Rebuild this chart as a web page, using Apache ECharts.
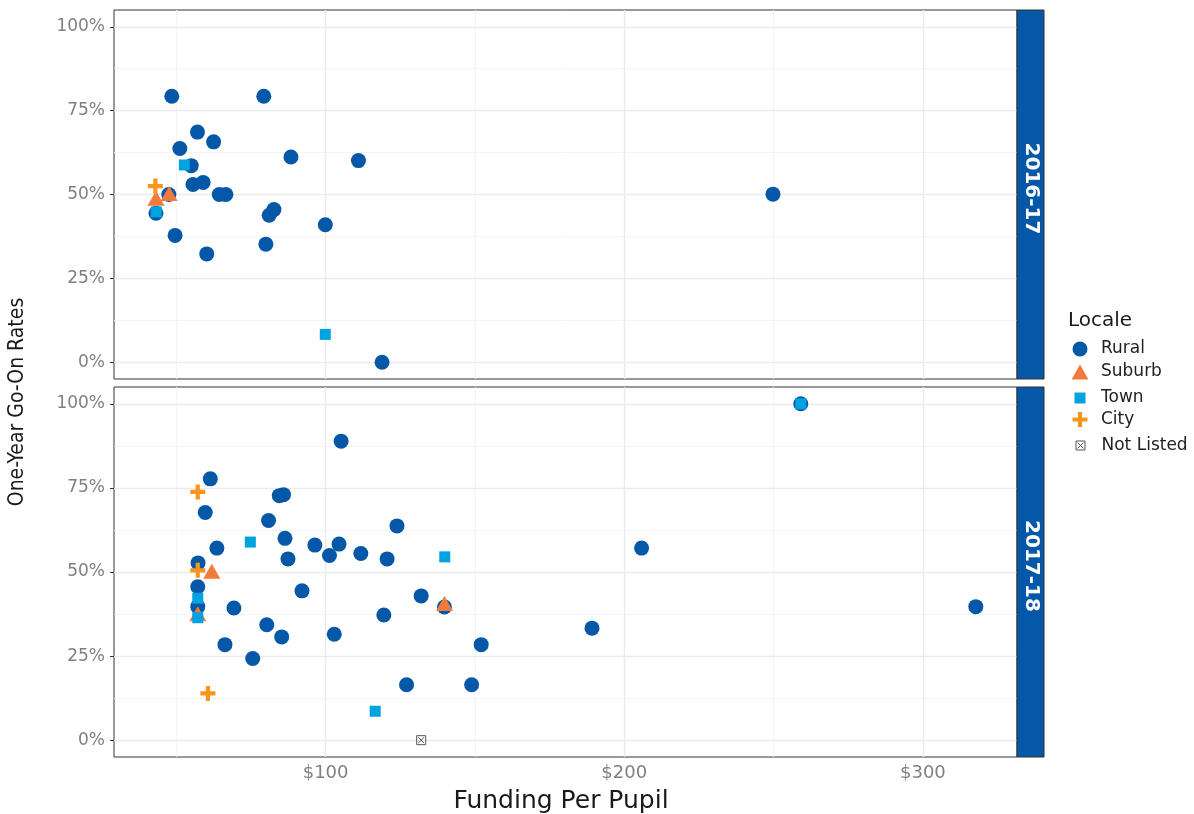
<!DOCTYPE html>
<html>
<head>
<meta charset="utf-8">
<script src="https://cdn.jsdelivr.net/npm/echarts@6/dist/echarts.min.js"></script>
<style>
  html, body { margin: 0; padding: 0; background: #fff; }
  #chart { width: 1194px; height: 814px; }
</style>
</head>
<body>
<div id="chart"></div>
<script>
// School years shown as facet rows
const years = ['2016-17', '2017-18'];
const locales = ['Rural', 'Suburb', 'Town', 'City', 'Not Listed'];

// Axis ticks
const xTicks = [100, 200, 300];
const xMinor = [50, 150, 250];
const yTicks = [0, 25, 50, 75, 100];
const yMinor = [12.5, 37.5, 62.5, 87.5];

// [funding per pupil ($), one-year go-on rate (%)]
const rural1617 = [
  [48.5, 79.3], [79.3, 79.3], [57.1, 68.6], [62.5, 65.7], [51.2, 63.7],
  [88.4, 61.2], [111.0, 60.1], [55.0, 58.6], [55.6, 53.0], [59.0, 53.6],
  [64.4, 50.0], [66.6, 50.0], [47.5, 50.0], [43.2, 44.4], [82.7, 45.5],
  [81.1, 43.8], [99.9, 41.0], [49.6, 37.8], [80.0, 35.2], [60.2, 32.3],
  [118.9, 0], [249.8, 50.1]
];
const suburb1617 = [[43.2, 48.9], [47.6, 50.3]];
const town1617 = [[43.3, 44.8], [52.7, 58.8], [99.9, 8.3]];
const city1617 = [[43.0, 52.5]];

const rural1718 = [
  [105.2, 88.9], [61.4, 77.7], [59.7, 67.7], [84.5, 72.7], [85.9, 73.0],
  [80.9, 65.3], [123.9, 63.7], [63.6, 57.1], [86.4, 60.0], [96.4, 58.0],
  [104.5, 58.3], [101.3, 54.9], [87.4, 53.9], [111.8, 55.5], [120.6, 53.9],
  [57.3, 52.7], [92.1, 44.4], [57.2, 45.6], [57.2, 39.7], [69.3, 39.3],
  [119.5, 37.2], [80.3, 34.3], [85.3, 30.7], [102.9, 31.5], [66.3, 28.4],
  [75.6, 24.3], [127.1, 16.5], [205.8, 57.1], [132.0, 42.9], [139.8, 39.6],
  [189.2, 33.3], [152.1, 28.4], [148.9, 16.5], [317.7, 39.7], [259.1, 100]
];
const suburb1718 = [[61.9, 50.2], [57.2, 37.6], [139.8, 40.6]];
const town1718 = [[74.8, 58.9], [57.2, 42.2], [57.2, 36.4], [139.9, 54.5], [116.6, 8.6], [259.1, 100]];
const city1718 = [[57.2, 73.8], [57.2, 50.5], [60.6, 13.9]];
const notListed1718 = [[132.0, 0]];

const colors = {
  Rural: '#0558A8',
  Suburb: '#F27A3A',
  Town: '#00A3E0',
  City: '#F7951E',
  'Not Listed': '#555555'
};

const plusPath = 'path://M3.6,0H6.4V3.6H10V6.4H6.4V10H3.6V6.4H0V3.6H3.6Z';
const trianglePath = 'path://M0,15L8.5,0L17,15Z';
const squarePath = 'path://M0,0H10V10H0Z';
const boxXPath = 'path://M0,0H10V10H0Z M1.8,1.8L8.2,8.2 M8.2,1.8L1.8,8.2';

const symbolStyle = {
  Rural: { symbol: 'circle', symbolSize: 15, itemStyle: { color: colors.Rural } },
  Suburb: { symbol: 'triangle', symbolSize: [17, 15], itemStyle: { color: colors.Suburb } },
  Town: { symbol: 'rect', symbolSize: 11, itemStyle: { color: colors.Town } },
  City: { symbol: plusPath, symbolSize: 15, itemStyle: { color: colors.City } },
  'Not Listed': {
    symbol: boxXPath, symbolSize: 9,
    itemStyle: { color: 'rgba(0,0,0,0)', borderColor: colors['Not Listed'], borderWidth: 1 }
  }
};

const FONT = '"DejaVu Sans", "Noto Sans", sans-serif';
const LABEL_COLOR = '#808080';

const panels = [
  { top: 10, height: 369 },
  { top: 387, height: 370 }
];
const LEFT = 114, WIDTH = 903;

// Background grid lines for a panel, drawn through the panel's axes
function gridLines(axisIdx) {
  const major = { color: '#EBEBEB', width: 1.4, type: 'solid' };
  const minor = { color: '#F3F3F3', width: 0.9, type: 'solid' };
  const data = [];
  xMinor.forEach(v => data.push({ xAxis: v, lineStyle: minor }));
  yMinor.forEach(v => data.push({ yAxis: v, lineStyle: minor }));
  xTicks.forEach(v => data.push({ xAxis: v, lineStyle: major }));
  yTicks.forEach(v => data.push({ yAxis: v, lineStyle: major }));
  return {
    silent: true, symbol: ['none', 'none'], z: 1, animation: false,
    label: { show: false }, emphasis: { disabled: true },
    data: data
  };
}

function scatter(name, data, idx, withGrid) {
  const s = symbolStyle[name];
  const out = {
    type: 'scatter', name: name, data: data,
    xAxisIndex: idx, yAxisIndex: idx,
    symbol: s.symbol, symbolSize: s.symbolSize,
    itemStyle: Object.assign({ opacity: 1 }, s.itemStyle),
    emphasis: { disabled: true },
    z: 3, animation: false
  };
  if (withGrid) out.markLine = gridLines(idx);
  return out;
}

const series = [
  scatter('Rural', rural1617, 0, true),
  scatter('Suburb', suburb1617, 0),
  scatter('Town', town1617, 0),
  scatter('City', city1617, 0),
  scatter('Rural', rural1718, 1, true),
  scatter('Suburb', suburb1718, 1),
  scatter('Town', town1718, 1),
  scatter('City', city1718, 1),
  scatter('Not Listed', notListed1718, 1)
];

// Legend: one component per entry so each key gets its own symbol size.
// The component is placed by its drawn icon, so left = icon centre - icon width / 2.
const LEGEND_ICON_X = 1080;
const legendIcons = {
  Rural: { icon: 'circle', w: 15, h: 15 },
  Suburb: { icon: trianglePath, w: 17, h: 15 },
  Town: { icon: squarePath, w: 11, h: 11 },
  City: { icon: plusPath, w: 15, h: 15 },
  'Not Listed': { icon: boxXPath, w: 9, h: 9 }
};
const legendY = [348, 371, 395, 418.5, 441.5];
const legends = locales.map((name, i) => {
  const li = legendIcons[name];
  const item = { name: name, icon: li.icon };
  if (name === 'Not Listed') {
    item.itemStyle = { color: 'rgba(0,0,0,0)', borderColor: colors[name], borderWidth: 1 };
  } else {
    item.itemStyle = { color: colors[name], borderWidth: 0 };
  }
  return {
    data: [item], orient: 'vertical', selectedMode: false,
    left: LEGEND_ICON_X - li.w / 2, top: legendY[i] - li.h / 2, padding: 0,
    itemWidth: 32, itemHeight: li.h,
    textStyle: { fontFamily: FONT, fontSize: 17, color: '#222' }
  };
});

const option = {
  animation: false,
  backgroundColor: '#ffffff',
  grid: panels.map(p => ({
    left: LEFT, top: p.top, width: WIDTH, height: p.height,
    show: true, backgroundColor: '#ffffff', borderColor: '#333333', borderWidth: 1
  })),
  xAxis: panels.map((p, i) => ({
    type: 'value', gridIndex: i, min: 29.15, max: 331.5,
    axisLine: { show: false },
    splitLine: { show: false },
    axisTick: { show: i === 1, customValues: xTicks, length: 4, lineStyle: { color: '#333' } },
    axisLabel: {
      show: i === 1, customValues: xTicks, margin: 7,
      formatter: v => '$' + v,
      fontFamily: FONT, fontSize: 18, color: LABEL_COLOR
    }
  })),
  yAxis: panels.map((p, i) => ({
    type: 'value', gridIndex: i, min: -5, max: 105,
    axisLine: { show: false },
    splitLine: { show: false },
    axisTick: { show: true, customValues: yTicks, length: 4, lineStyle: { color: '#333' } },
    axisLabel: {
      customValues: yTicks, margin: 9,
      formatter: v => v + '%',
      fontFamily: FONT, fontSize: 17, color: LABEL_COLOR
    }
  })),
  legend: legends,
  series: series,
  graphic: [
    // facet strips
    ...panels.map((p, i) => ({
      type: 'rect', z: 10,
      shape: { x: 1017, y: p.top, width: 27, height: p.height },
      style: { fill: '#0558A8', stroke: '#333333', lineWidth: 1 }
    })),
    ...panels.map((p, i) => ({
      type: 'text', z: 11,
      x: 1031, y: p.top + p.height / 2 - 6, rotation: -Math.PI / 2,
      style: {
        text: years[i], fill: '#ffffff', fontFamily: FONT, fontSize: 20, fontWeight: 'bold',
        align: 'center', verticalAlign: 'middle'
      }
    })),
    {
      type: 'text', x: 561, y: 801,
      style: {
        text: 'Funding Per Pupil', fill: '#1a1a1a', fontFamily: FONT, fontSize: 25,
        align: 'center', verticalAlign: 'middle'
      }
    },
    {
      type: 'text', x: 18, y: 402, rotation: Math.PI / 2,
      style: {
        text: 'One-Year Go-On Rates', fill: '#1a1a1a',
        fontFamily: '"Liberation Sans Narrow", "DejaVu Sans Condensed", "Roboto Condensed", Lato, sans-serif',
        fontSize: 21, align: 'center', verticalAlign: 'middle'
      }
    },
    {
      type: 'text', x: 1068, y: 321,
      style: {
        text: 'Locale', fill: '#1a1a1a', fontFamily: FONT, fontSize: 20,
        align: 'left', verticalAlign: 'middle'
      }
    }
  ]
};

const chart = echarts.init(document.getElementById('chart'), null, { renderer: 'canvas' });
chart.setOption(option);
</script>
</body>
</html>
